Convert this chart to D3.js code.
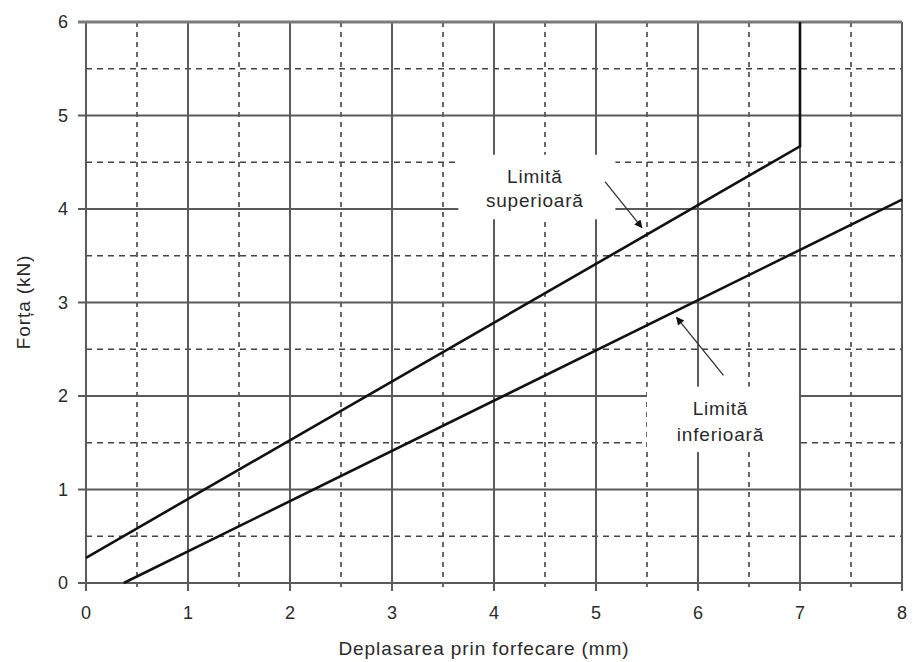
<!DOCTYPE html>
<html>
<head>
<meta charset="utf-8">
<script src="https://cdn.jsdelivr.net/npm/d3@7"></script>
<style>
  html, body { margin: 0; padding: 0; background: #fff; }
  svg { display: block; }
  text { font-family: "Liberation Sans", Arial, sans-serif; fill: #2a2a2a; }
</style>
</head>
<body>
<svg id="chart" width="913" height="662"></svg>
<script>
// ---- data ----
const xTicks = [0, 1, 2, 3, 4, 5, 6, 7, 8];
const yTicks = [0, 1, 2, 3, 4, 5, 6];
const xMinor = [0.5, 1.5, 2.5, 3.5, 4.5, 5.5, 6.5, 7.5];
const yMinor = [0.5, 1.5, 2.5, 3.5, 4.5, 5.5];
const upperX = [0, 7, 7];
const upperY = [0.27, 4.67, 6];
const lowerX = [0.37, 8];
const lowerY = [0, 4.1];
const xTitle = "Deplasarea prin forfecare (mm)";
const yTitle = "Forța (kN)";
const labelUpper = ["Limită", "superioară"];
const labelLower = ["Limită", "inferioară"];
// annotation anchors in data units
const boxUpper = { x0: 3.65, x1: 5.19, y0: 3.89, y1: 4.58 };
const boxLower = { x0: 5.5, x1: 6.99, y0: 1.40, y1: 2.10 };
const textUpper = { x: 4.40, y: 4.28 };
const textLower = { x: 6.22, y: 1.80 };
const arrowUpper = { x1: 5.09, y1: 4.29, x2: 5.45, y2: 3.80 };
const arrowLower = { x1: 6.25, y1: 2.22, x2: 5.79, y2: 2.84 };

// ---- layout ----
const svg = d3.select("#chart");
const mLeft = 86, mRight = 902, mTop = 22, mBottom = 583;
const x = d3.scaleLinear().domain([0, 8]).range([mLeft, mRight]);
const y = d3.scaleLinear().domain([0, 6]).range([mBottom, mTop]);

svg.append("defs").append("marker")
  .attr("id", "ah").attr("viewBox", "0 0 10 10")
  .attr("refX", 9).attr("refY", 5)
  .attr("markerWidth", 10).attr("markerHeight", 8)
  .attr("markerUnits", "userSpaceOnUse")
  .attr("orient", "auto")
  .append("path").attr("d", "M0,0 L10,5 L0,10 Z").attr("fill", "#111");

const g = svg.append("g");

// dashed minor grid
g.selectAll(".vminor").data(xMinor).join("line")
  .attr("x1", d => x(d)).attr("x2", d => x(d))
  .attr("y1", y(6)).attr("y2", y(0) + 4)
  .attr("stroke", "#444").attr("stroke-width", 1.6)
  .attr("stroke-dasharray", "5,5");
g.selectAll(".hminor").data(yMinor).join("line")
  .attr("x1", x(0)).attr("x2", x(8))
  .attr("y1", d => y(d)).attr("y2", d => y(d))
  .attr("stroke", "#444").attr("stroke-width", 1.6)
  .attr("stroke-dasharray", "6,5");

// solid major grid
g.selectAll(".vmajor").data(xTicks).join("line")
  .attr("x1", d => x(d)).attr("x2", d => x(d))
  .attr("y1", y(6)).attr("y2", y(0) + 8)
  .attr("stroke", "#5a5a5a").attr("stroke-width", 2);
g.selectAll(".hmajor").data(yTicks).join("line")
  .attr("x1", x(0) - 8).attr("x2", x(8))
  .attr("y1", d => y(d)).attr("y2", d => y(d))
  .attr("stroke", d => d === 6 ? "#7a7a7a" : "#5a5a5a")
  .attr("stroke-width", d => d === 6 ? 3 : 2);

// white boxes behind labels
[boxUpper, boxLower].forEach(b => {
  g.append("rect")
    .attr("x", x(b.x0)).attr("y", y(b.y1))
    .attr("width", x(b.x1) - x(b.x0)).attr("height", y(b.y0) - y(b.y1))
    .attr("fill", "#fff");
});
// redraw x=7 gridline over the lower box edge
g.append("line")
  .attr("x1", x(7)).attr("x2", x(7)).attr("y1", y(boxLower.y1)).attr("y2", y(boxLower.y0))
  .attr("stroke", "#5a5a5a").attr("stroke-width", 2);

// tick labels
g.selectAll(".xl").data(xTicks).join("text")
  .attr("x", d => x(d)).attr("y", mBottom + 36)
  .attr("text-anchor", "middle").attr("font-size", 18)
  .text(d => d);
g.selectAll(".yl").data(yTicks).join("text")
  .attr("x", mLeft - 18).attr("y", d => y(d)).attr("dy", "0.36em")
  .attr("text-anchor", "end").attr("font-size", 18)
  .text(d => d);

// axis titles
g.append("text")
  .attr("x", (338 + 630) / 2).attr("y", 655)
  .attr("text-anchor", "middle").attr("font-size", 19)
  .attr("letter-spacing", 0.9)
  .text(xTitle);
g.append("text")
  .attr("transform", `translate(30,${302}) rotate(-90)`)
  .attr("text-anchor", "middle").attr("font-size", 19)
  .attr("letter-spacing", 0.9)
  .text(yTitle);

// data lines
const line = d3.line().x(d => x(d[0])).y(d => y(d[1]));
g.append("path")
  .attr("d", line(upperX.map((v, i) => [v, upperY[i]])))
  .attr("fill", "none").attr("stroke", "#111").attr("stroke-width", 2.6)
  .attr("stroke-linejoin", "miter");
g.append("path")
  .attr("d", line(lowerX.map((v, i) => [v, lowerY[i]])))
  .attr("fill", "none").attr("stroke", "#111").attr("stroke-width", 2.6);

// labels
function label(pos, lines, gap) {
  lines.forEach((t, i) => {
    g.append("text")
      .attr("x", x(pos.x)).attr("y", y(pos.y) + i * gap)
      .attr("text-anchor", "middle").attr("font-size", 19)
      .attr("letter-spacing", 0.8)
      .text(t);
  });
}
label(textUpper, labelUpper, 24);
label(textLower, labelLower, 26);

// arrows
[arrowUpper, arrowLower].forEach(a => {
  g.append("line")
    .attr("x1", x(a.x1)).attr("y1", y(a.y1))
    .attr("x2", x(a.x2)).attr("y2", y(a.y2))
    .attr("stroke", "#333").attr("stroke-width", 1.3)
    .attr("marker-end", "url(#ah)");
});
</script>
</body>
</html>
